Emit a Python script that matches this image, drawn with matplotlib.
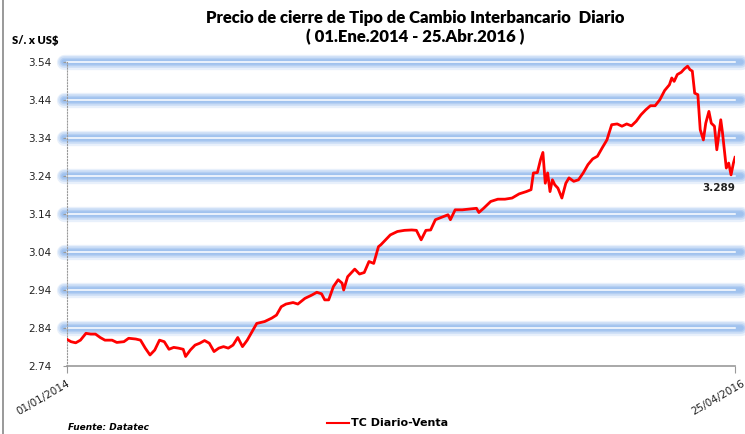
import matplotlib
matplotlib.use("Agg")
import matplotlib.pyplot as plt
import matplotlib.dates as mdates
import matplotlib.transforms as mtransforms
from matplotlib.lines import Line2D
import pandas as pd

plt.rcParams['font.family'] = ['Lato', 'DejaVu Sans']

start_date = "2014-01-01"
end_date = "2016-04-25"
day_offsets = [0, 5, 11, 17, 24, 30, 36, 42, 48, 57, 63, 72, 78, 87, 93, 99, 105, 111, 117, 123,
               129, 135, 141, 147, 150, 156, 162, 168, 174, 180, 186, 192, 198, 204, 210, 216, 222,
               228, 234, 240, 250, 259, 265, 271, 277, 286, 292, 301, 310, 316, 322, 326, 331, 337,
               343, 348, 350, 355, 364, 370, 376, 382, 388, 394, 397, 403, 409, 418, 427, 436, 442,
               448, 454, 460, 466, 476, 482, 485, 491, 500, 509, 518, 521, 527, 536, 545, 554, 563,
               572, 581, 587, 590, 595, 599, 602, 605, 608, 611, 614, 617, 621, 626, 631, 635, 641,
               647, 653, 659, 665, 671, 677, 683, 689, 696, 702, 708, 714, 720, 726, 732, 738, 744,
               750, 756, 762, 765, 768, 772, 777, 781, 785, 788, 791, 794, 798, 801, 805, 808, 812,
               815, 819, 822, 827, 829, 831, 834, 837, 840, 843, 845]
tc_venta = [2.810, 2.804, 2.801, 2.808, 2.826, 2.824, 2.824, 2.815, 2.808, 2.808, 2.802, 2.804,
            2.813, 2.811, 2.808, 2.787, 2.769, 2.782, 2.808, 2.804, 2.784, 2.789, 2.787, 2.784,
            2.765, 2.782, 2.795, 2.800, 2.807, 2.800, 2.778, 2.787, 2.791, 2.787, 2.795, 2.815,
            2.791, 2.808, 2.830, 2.852, 2.857, 2.866, 2.874, 2.896, 2.903, 2.907, 2.903, 2.918,
            2.927, 2.934, 2.930, 2.914, 2.914, 2.949, 2.967, 2.958, 2.940, 2.975, 2.995, 2.982,
            2.986, 3.015, 3.010, 3.054, 3.059, 3.072, 3.085, 3.094, 3.097, 3.098, 3.097, 3.072,
            3.097, 3.098, 3.125, 3.133, 3.138, 3.125, 3.151, 3.151, 3.153, 3.155, 3.144, 3.155,
            3.173, 3.179, 3.179, 3.182, 3.193, 3.199, 3.204, 3.248, 3.249, 3.283, 3.302, 3.221,
            3.248, 3.199, 3.230, 3.217, 3.208, 3.182, 3.221, 3.235, 3.226, 3.230, 3.248, 3.270,
            3.285, 3.292, 3.314, 3.335, 3.375, 3.377, 3.371, 3.377, 3.372, 3.384, 3.401, 3.414,
            3.425, 3.425, 3.441, 3.465, 3.480, 3.498, 3.489, 3.507, 3.513, 3.522, 3.529, 3.520,
            3.516, 3.458, 3.454, 3.362, 3.335, 3.379, 3.410, 3.379, 3.371, 3.309, 3.388, 3.357,
            3.318, 3.261, 3.274, 3.243, 3.274, 3.289]
y_ticks = [2.74, 2.84, 2.94, 3.04, 3.14, 3.24, 3.34, 3.44, 3.54]
x_tick_labels = ["01/01/2014", "25/04/2016"]
last_label = "3.289"
series_name = "TC Diario-Venta"
title = "Precio de cierre de Tipo de Cambio Interbancario  Diario"
subtitle = "( 01.Ene.2014 - 25.Abr.2016 )"
y_unit = "S/. x US$"
source = "Fuente: Datatec"

dates = pd.to_datetime(start_date) + pd.to_timedelta(day_offsets, unit="D")
d0 = pd.to_datetime(start_date)
d1 = pd.to_datetime(end_date)

fig = plt.figure(figsize=(7.45, 4.34), dpi=100)
ax = fig.add_axes([67/745, 1-366/434, (735-67)/745, (366-62)/434])

ax.set_xlim(d0, d1)
ax.set_ylim(y_ticks[0], y_ticks[-1])

# glowing grid lines
x0n, x1n = mdates.date2num(d0), mdates.date2num(d1)
for yv in y_ticks[1:]:
    for lw, a in [(11, 0.20), (8.5, 0.28), (6, 0.38), (4, 0.5)]:
        ax.plot([x0n - 4, x1n + 8], [yv, yv], color="#8db6ec",
                lw=lw, alpha=a, solid_capstyle="round", clip_on=False, zorder=1)
    ax.plot([x0n, x1n], [yv, yv], color="white", lw=1.1, clip_on=False, zorder=2)

ax.plot(dates, tc_venta, color="#ff0000", lw=2, zorder=3, label=series_name)

for s in ["top", "right"]:
    ax.spines[s].set_visible(False)
ax.spines["left"].set_linestyle(":")
ax.spines["left"].set_color("#999999")
ax.spines["left"].set_linewidth(0.8)
ax.spines["bottom"].set_color("#999999")
ax.spines["bottom"].set_linewidth(1.2)

ax.set_yticks(y_ticks)
ax.set_yticklabels([f"{v:.2f}" for v in y_ticks], fontsize=7.5, family="DejaVu Sans", color="#222222")
ax.tick_params(axis="y", length=3, color="#999999", pad=8)
ax.set_xticks([d0, d1])
ax.set_xticklabels(x_tick_labels, rotation=30, ha="right", va="top", fontsize=7.5,
                   family="DejaVu Sans", rotation_mode="anchor", color="#222222")
ax.tick_params(axis="x", length=5, color="#999999", pad=4)
lbls = ax.get_xticklabels()
lbls[1].set_transform(lbls[1].get_transform() +
                      mtransforms.ScaledTranslation(6/100, 0, fig.dpi_scale_trans))

ax.text(d1, 3.208, last_label, ha="right", va="center", fontsize=7.5,
        fontweight="bold", family="DejaVu Sans", color="#222222")

fig.text(415/745, 1-18/434, title, ha="center", va="center", fontsize=12, fontweight="heavy")
fig.text(415/745, 1-37/434, subtitle, ha="center", va="center", fontsize=12, fontweight="heavy")
fig.text(12/745, 1-40/434, y_unit, ha="left", va="center", fontsize=8, fontweight="heavy")
fig.text(68/745, 1-427/434, source, ha="left", va="center", fontsize=6.5, fontweight="bold",
         style="italic", family="DejaVu Sans")
fig.add_artist(Line2D([327/745, 349/745], [1-423/434, 1-423/434], color="#ff0000", lw=1.5))
fig.text(351/745, 1-423/434, series_name, ha="left", va="center", fontsize=8, fontweight="bold",
         family="DejaVu Sans")
fig.add_artist(Line2D([3/745, 3/745], [0, 1], color="#888888", lw=1.2))

fig.savefig("out.png", dpi=100, facecolor="white")
